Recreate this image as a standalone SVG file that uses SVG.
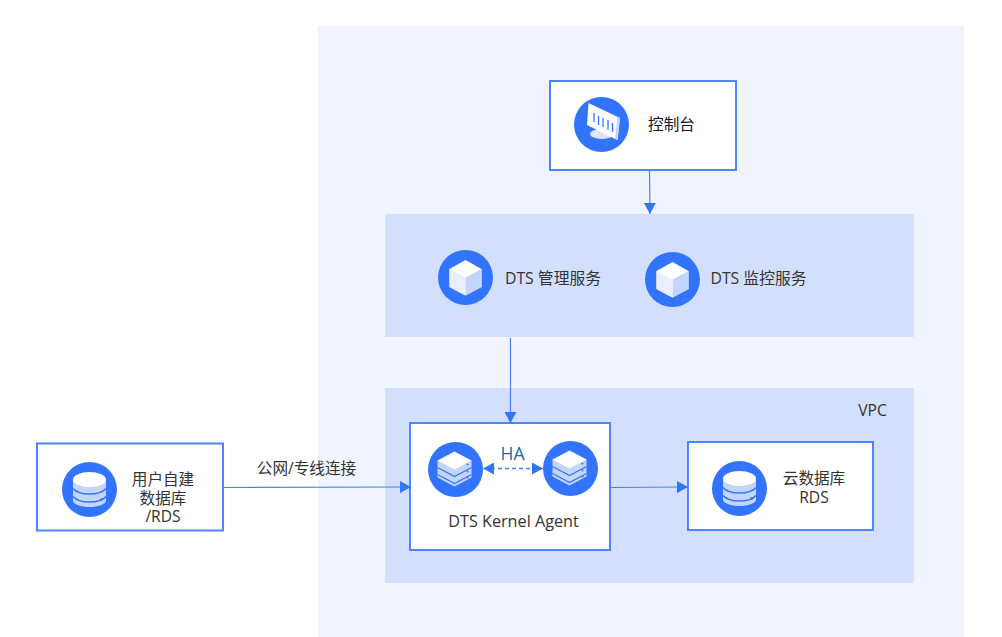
<svg xmlns="http://www.w3.org/2000/svg" width="1002" height="637" viewBox="0 0 1002 637">
<style>
.box{fill:#fff;stroke:#4d86fb;stroke-width:2}
.band{fill:#d3e0fd}
.ln{fill:none;stroke:#4a82f5;stroke-width:1.2}
.t{font-family:"Open Sans","Noto Sans CJK SC",sans-serif;font-size:15.6px;fill:#333;text-anchor:middle}
.c{fill:#3374ff}
</style>
<defs>
<marker id="ah" markerUnits="userSpaceOnUse" markerWidth="12" markerHeight="12" refX="11" refY="6" orient="auto"><path d="M0 0L11 6L0 12Z" fill="#3374ff"/></marker>
<marker id="ahs" markerUnits="userSpaceOnUse" markerWidth="12" markerHeight="12" refX="1" refY="6" orient="auto"><path d="M11 0L0 6L11 12Z" fill="#3374ff"/></marker>
<symbol id="cube" overflow="visible"><circle class="c" r="27.5"/><path d="M0-17.5L16-8.5V9.5L0 18L-16 9.5V-8.5Z" fill="#fff"/><path d="M0 0L16-8.5V9.5L0 18Z" fill="#c3d5fd"/><path d="M-16-8.5L0 0V18L-16 9.5Z" fill="#e9effe"/></symbol>
<symbol id="db" overflow="visible"><circle class="c" r="27.5"/><path d="M-16.500-9V11C-16.500 15 -8 17.500 0 17.500S16.500 15 16.500 11V-9Z" fill="#c3d5fd"/><ellipse cy="-10" rx="16.500" ry="7.500" fill="#fff"/><path d="M-16.500-1C-13 3 -6 4.500 0 4.500S13 3 16.500-1M-16.500 7C-13 11 -6 12.500 0 12.500S13 11 16.500 7" fill="none" stroke="#3374ff" stroke-width="1.500"/><circle cx="12" cy="10" r="1.300" fill="#3374ff"/></symbol>
<symbol id="stack" overflow="visible"><circle class="c" r="27.500"/><path d="M-18-9V8L-1 17L16 8V-9Z" fill="#c3d5fd"/><path d="M-1-18L16-9L-1 0L-18-9Z" fill="#fff"/><path d="M-18-2L-1 7L16-2M-18 5L-1 14L16 5" fill="none" stroke="#3374ff" stroke-width="1.200"/><circle cx="12" cy="-5" r="1" fill="#3374ff"/><circle cx="12" cy="2" r="1" fill="#3374ff"/><circle cx="12" cy="8" r="1" fill="#3374ff"/></symbol>
</defs>
<rect width="1002" height="637" fill="#fff"/>
<rect x="318" y="26" width="646" height="611" fill="#f0f4ff"/>
<rect class="band" x="385" y="214" width="529" height="123"/>
<rect class="band" x="385" y="388" width="529" height="195"/>
<text class="t" x="872.500" y="416">VPC</text>
<text class="t" x="306.500" y="473.500">公网/专线连接</text>
<g id="console">
<rect class="box" x="550" y="81" width="186" height="89"/>
<circle class="c" cx="601.500" cy="124.500" r="27.500"/>
<ellipse cx="602" cy="134" rx="12" ry="5" fill="#dbe6fe"/>
<path d="M588.500 103L620 118L617.500 140L587 125Z" fill="#fff"/>
<path d="M617.500 117L620 118L617.500 140L615 138.800Z" fill="#c3d5fd"/>
<path d="M594 113V122M598.500 116V125M603 118V127M608 120V130M612.500 123V132" stroke="#3374ff" stroke-width="1.300" fill="none"/>
<text class="t" x="671.500" y="130" style="fill:#12122a">控制台</text>
</g>
<g id="mgmt"><use href="#cube" x="465.500" y="277.500"/><text class="t" x="553" y="284" style="font-size:15.800px">DTS 管理服务</text></g>
<g id="monitor"><use href="#cube" x="672.500" y="279.500"/><text class="t" x="758.500" y="284" style="font-size:15.800px">DTS 监控服务</text></g>
<g id="kernel">
<rect class="box" x="410" y="423" width="200" height="127"/>
<use href="#stack" x="455.500" y="469.500"/>
<use href="#stack" x="570.500" y="468.500"/>
<text class="t" x="512.500" y="460" style="fill:#1a6aa8;font-size:17.500px">HA</text>
<text class="t" x="513.500" y="527" style="font-size:16.200px">DTS Kernel Agent</text>
</g>
<g id="userdb">
<rect class="box" x="37" y="443.500" width="186" height="87"/>
<use href="#db" x="89.500" y="489.500"/>
<text class="t" y="485"><tspan x="163">用户自建</tspan><tspan x="163" dy="19">数据库</tspan><tspan x="163" dy="18">/RDS</tspan></text>
</g>
<g id="rds">
<rect class="box" x="688" y="442" width="185" height="88"/>
<use href="#db" x="739.500" y="488.500"/>
<text class="t" y="484"><tspan x="814">云数据库</tspan><tspan x="814" dy="19">RDS</tspan></text>
</g>
<g id="connectors">
<path class="ln" d="M649.500 170L650 214" marker-end="url(#ah)"/>
<path class="ln" d="M510.500 338V423" marker-end="url(#ah)"/>
<path class="ln" d="M223 487.500L411 487" marker-end="url(#ah)"/>
<path class="ln" d="M610 487.500L688 487" marker-end="url(#ah)"/>
<path class="ln" d="M484 468.500H543" style="stroke-width:1.500" stroke-dasharray="4 3" marker-start="url(#ahs)" marker-end="url(#ah)"/>
</g>
</svg>
